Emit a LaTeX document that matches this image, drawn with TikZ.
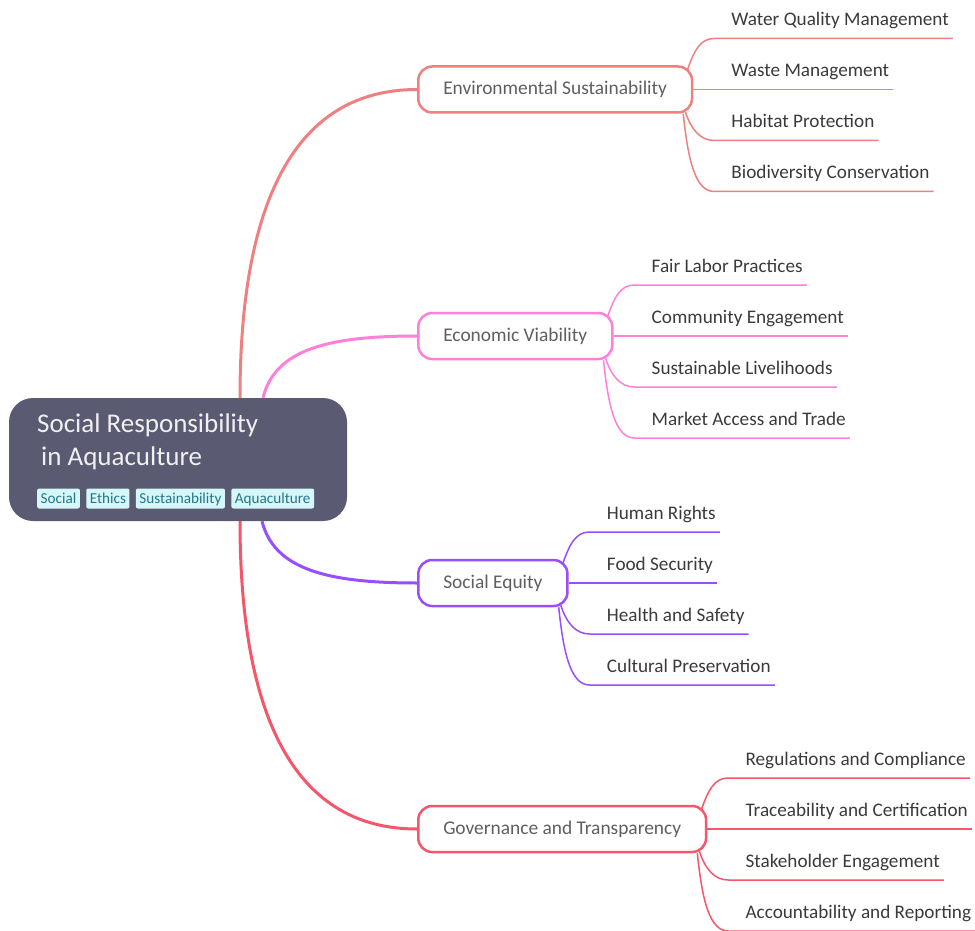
\documentclass[tikz,border=0pt]{standalone}
\usepackage{fontspec}
\setmainfont{Carlito}
\usetikzlibrary{calc,positioning}
\definecolor{envc}{RGB}{239,128,128}
\definecolor{ecoc}{RGB}{255,128,218}
\definecolor{socc}{RGB}{152,78,255}
\definecolor{govc}{RGB}{245,86,106}
\definecolor{rootfill}{RGB}{90,91,115}
\definecolor{tagfill}{RGB}{214,247,250}
\definecolor{tagtext}{RGB}{38,118,138}
\definecolor{branchtext}{RGB}{95,95,95}
\definecolor{leaftext}{RGB}{58,58,58}
\tikzset{
  rootbox/.style={fill=rootfill, rounded corners=24pt, minimum width=338pt, minimum height=123pt, inner sep=0pt},
  title/.style={text=white!94!black, align=left, anchor=north west, inner sep=0pt, font=\fontsize{27}{33}\selectfont},
  tag/.style={fill=tagfill, text=tagtext, rounded corners=2pt, inner xsep=3.5pt, inner ysep=2.5pt, text height=12pt, text depth=3pt, font=\fontsize{15.2}{17}\selectfont},
  branch/.style={draw=#1, line width=2.5pt, fill=white, rounded corners=14pt, minimum height=46pt, inner xsep=25pt, anchor=west, text=branchtext, font=\fontsize{19.4}{22}\selectfont},
  leaf/.style={anchor=base west, inner xsep=4pt, inner ysep=0pt, text=leaftext, font=\fontsize{19.2}{22}\selectfont},
  trunk/.style={draw=#1, line width=3pt},
  twig/.style={draw=#1, line width=1.5pt},
}
\begin{document}
\begin{tikzpicture}[x=1pt,y=-1pt]
\useasboundingbox (0,0) rectangle (975,931);
% central topic with its tags
\node[rootbox] (root) at (178,459.5) {};
\node[title] (title) at (37,414) {Social Responsibility\\\hspace{4pt}in Aquaculture};
\node[tag, anchor=base west] (t1) at (37,503) {Social};
\node[tag, right=6pt of t1] (t2) {Ethics};
\node[tag, right=6pt of t2] (t3) {Sustainability};
\node[tag, right=6pt of t3] (t4) {Aquaculture};
% main branches
\foreach \nm/\col/\ypos/\txt in {env/envc/89.5/Environmental Sustainability, eco/ecoc/336/Economic Viability, soc/socc/583/Social Equity, gov/govc/829/Governance and Transparency}
  \node[branch=\col] (\nm) at (417,\ypos) {\txt};
\draw[trunk=envc] ($(root.north)+(62,0)$) .. controls +(0,-200) and +(-120,0) .. (env.west);
\draw[trunk=ecoc] ($(root.north)+(85,0)$) .. controls +(12,-48) and +(-90,0) .. (eco.west);
\draw[trunk=socc] ($(root.south)+(84,0)$) .. controls +(12,48) and +(-90,0) .. (soc.west);
\draw[trunk=govc] ($(root.south)+(62,0)$) .. controls +(0,200) and +(-120,0) .. (gov.west);
% sub-topics: name / offset of underline from branch centre / label
\foreach \br/\col/\lst in {%
    env/envc/{1/-51/Water Quality Management, 2/0/Waste Management, 3/51/Habitat Protection, 4/102/Biodiversity Conservation},
    eco/ecoc/{1/-51/Fair Labor Practices, 2/0/Community Engagement, 3/51/Sustainable Livelihoods, 4/102/Market Access and Trade},
    soc/socc/{1/-51/Human Rights, 2/0/Food Security, 3/51/Health and Safety, 4/102/Cultural Preservation},
    gov/govc/{1/-51/Regulations and Compliance, 2/0/Traceability and Certification, 3/51/Stakeholder Engagement, 4/102/Accountability and Reporting}} {
  \foreach \i/\dy/\txt in \lst {
    \coordinate (\br-u\i) at ($(\br.east)+(21,\dy)$);
    \node[leaf] (\br-\i) at ($(\br-u\i)+(13,-13)$) {\txt};
  }
  \draw[twig=\col] ($(\br.north east)+(-6,5)$) .. controls +(7,-20) and +(-14,0) .. (\br-u1) -- (\br-1.east |- \br-u1);
  \draw[twig=\col] (\br.east) -- (\br-2.east |- \br-u2);
  \draw[twig=\col] ($(\br.south east)+(-8,-2)$) .. controls +(6,18) and +(-14,0) .. (\br-u3) -- (\br-3.east |- \br-u3);
  \draw[twig=\col] ($(\br.south east)+(-10,0)$) .. controls +(5,50) and +(-18,0) .. (\br-u4) -- (\br-4.east |- \br-u4);
}
\end{tikzpicture}
\end{document}
